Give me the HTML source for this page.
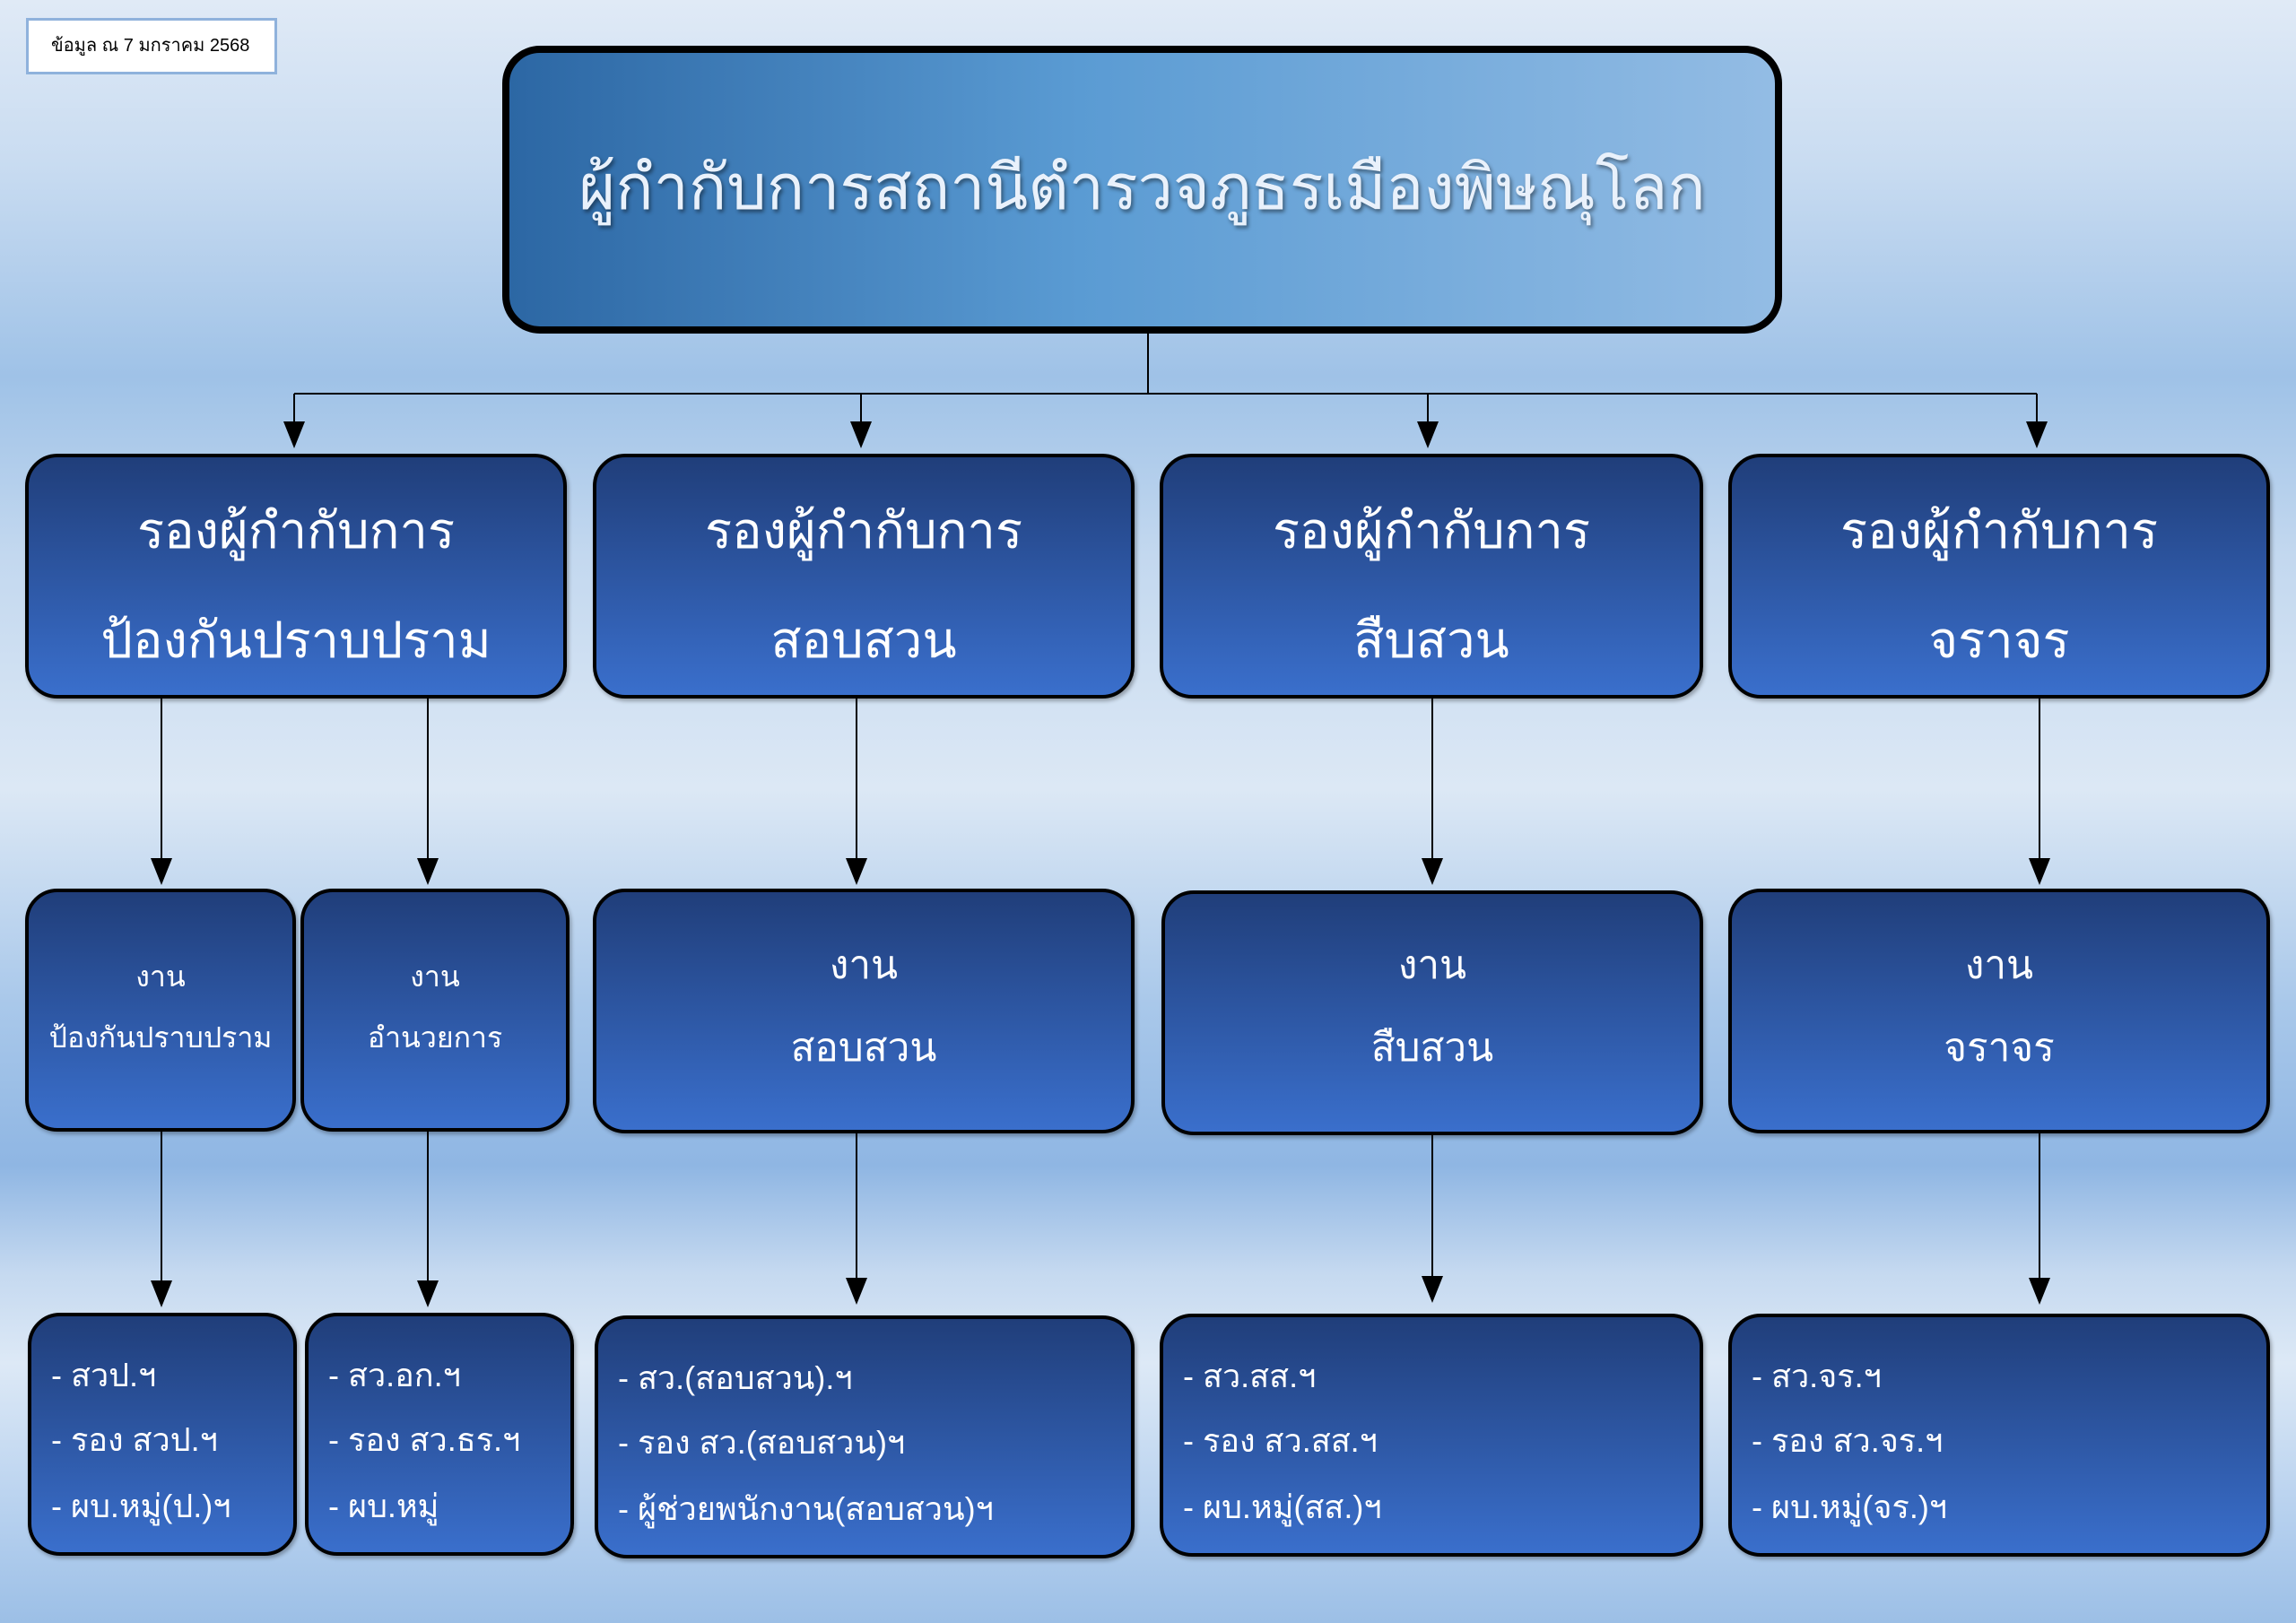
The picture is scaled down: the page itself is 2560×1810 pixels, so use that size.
<!DOCTYPE html>
<html><head><meta charset="utf-8"><style>
html,body{margin:0;padding:0}
body{width:2560px;height:1810px;position:relative;overflow:hidden;font-family:"Liberation Sans","DejaVu Sans",sans-serif;
background:linear-gradient(180deg,#e0eaf6 0px,#c9dcf1 180px,#9fc2e7 420px,#c3d8ef 620px,#dce8f5 880px,#a9c8ea 1120px,#8fb6e3 1300px,#c5d9f0 1420px,#dde9f6 1520px,#b4cfee 1700px,#9cbfe6 1810px)}
.b{position:absolute;box-sizing:border-box;border:4px solid #000;border-radius:36px;background:linear-gradient(180deg,#203e7a,#3a6fcc);color:#fff;text-align:center;box-shadow:2px 3px 4px rgba(0,0,0,.3)}
.t{position:absolute;left:0;right:0;line-height:1;white-space:nowrap}
.l{position:absolute;left:22px;white-space:nowrap;font-size:36px;line-height:1}
</style></head><body>
<div style="position:absolute;left:29px;top:20px;width:280px;height:63px;box-sizing:border-box;background:#fff;border:3px solid #8fb2dc;font-size:20px;line-height:57px;padding-left:25px">ข้อมูล ณ 7 มกราคม 2568</div>
<div style="position:absolute;left:560px;top:51px;width:1427px;height:321px;box-sizing:border-box;border:8px solid #000;border-radius:42px;background:linear-gradient(90deg,#2c67a4,#5a9bd3 45%,#93bce4);color:#e9f1fb;text-align:center;font-size:70px;line-height:300px;text-shadow:2px 3px 4px rgba(0,0,0,.45)">ผู้กำกับการสถานีตำรวจภูธรเมืองพิษณุโลก</div>
<svg width="2560" height="1810" style="position:absolute;left:0;top:0">
<g stroke="#000" stroke-width="2" fill="none">
<path d="M1280 372V439M328 439H2271M328 439V475M960 439V475M1592 439V475M2271 439V475"/>
<path d="M180 779V962M477 779V962M955 779V962M1597 779V962M2274 779V962"/>
<path d="M180 1262V1432M477 1262V1432M955 1262V1432M1597 1262V1432M2274 1262V1432"/>
</g>
<g fill="#000">
<path d="M316 470h24l-12 30z"/><path d="M948 470h24l-12 30z"/><path d="M1580 470h24l-12 30z"/><path d="M2259 470h24l-12 30z"/>
<path d="M168 957h24l-12 30z"/><path d="M465 957h24l-12 30z"/><path d="M943 957h24l-12 30z"/><path d="M1585 957h24l-12 30z"/><path d="M2262 957h24l-12 30z"/>
<path d="M168 1428h24l-12 30z"/><path d="M465 1428h24l-12 30z"/><path d="M943 1425h24l-12 30z"/><path d="M1585 1423h24l-12 30z"/><path d="M2262 1425h24l-12 30z"/>
</g></svg>

<div class="b" style="left:28px;top:506px;width:604px;height:273px;font-size:56px"><div class="t" style="top:54px">รองผู้กำกับการ</div><div class="t" style="top:176px">ป้องกันปราบปราม</div></div>
<div class="b" style="left:661px;top:506px;width:604px;height:273px;font-size:56px"><div class="t" style="top:54px">รองผู้กำกับการ</div><div class="t" style="top:176px">สอบสวน</div></div>
<div class="b" style="left:1293px;top:506px;width:606px;height:273px;font-size:56px"><div class="t" style="top:54px">รองผู้กำกับการ</div><div class="t" style="top:176px">สืบสวน</div></div>
<div class="b" style="left:1927px;top:506px;width:604px;height:273px;font-size:56px"><div class="t" style="top:54px">รองผู้กำกับการ</div><div class="t" style="top:176px">จราจร</div></div>

<div class="b" style="left:28px;top:991px;width:302px;height:271px;font-size:32px"><div class="t" style="top:78px">งาน</div><div class="t" style="top:146px">ป้องกันปราบปราม</div></div>
<div class="b" style="left:335px;top:991px;width:300px;height:271px;font-size:32px"><div class="t" style="top:78px">งาน</div><div class="t" style="top:146px">อำนวยการ</div></div>
<div class="b" style="left:661px;top:991px;width:604px;height:273px;font-size:44px"><div class="t" style="top:60px">งาน</div><div class="t" style="top:152px">สอบสวน</div></div>
<div class="b" style="left:1295px;top:993px;width:604px;height:273px;font-size:44px"><div class="t" style="top:58px">งาน</div><div class="t" style="top:150px">สืบสวน</div></div>
<div class="b" style="left:1927px;top:991px;width:604px;height:273px;font-size:44px"><div class="t" style="top:60px">งาน</div><div class="t" style="top:152px">จราจร</div></div>

<div class="b" style="left:31px;top:1464px;width:300px;height:271px;text-align:left"><div class="l" style="top:48px">- สวป.ฯ</div><div class="l" style="top:120px">- รอง สวป.ฯ</div><div class="l" style="top:194px">- ผบ.หมู่(ป.)ฯ</div></div>
<div class="b" style="left:340px;top:1464px;width:300px;height:271px;text-align:left"><div class="l" style="top:48px">- สว.อก.ฯ</div><div class="l" style="top:120px">- รอง สว.ธร.ฯ</div><div class="l" style="top:194px">- ผบ.หมู่</div></div>
<div class="b" style="left:663px;top:1467px;width:602px;height:271px;text-align:left"><div class="l" style="top:48px">- สว.(สอบสวน).ฯ</div><div class="l" style="top:120px">- รอง สว.(สอบสวน)ฯ</div><div class="l" style="top:194px">- ผู้ช่วยพนักงาน(สอบสวน)ฯ</div></div>
<div class="b" style="left:1293px;top:1465px;width:606px;height:271px;text-align:left"><div class="l" style="top:48px">- สว.สส.ฯ</div><div class="l" style="top:120px">- รอง สว.สส.ฯ</div><div class="l" style="top:194px">- ผบ.หมู่(สส.)ฯ</div></div>
<div class="b" style="left:1927px;top:1465px;width:604px;height:271px;text-align:left"><div class="l" style="top:48px">- สว.จร.ฯ</div><div class="l" style="top:120px">- รอง สว.จร.ฯ</div><div class="l" style="top:194px">- ผบ.หมู่(จร.)ฯ</div></div>
</body></html>
